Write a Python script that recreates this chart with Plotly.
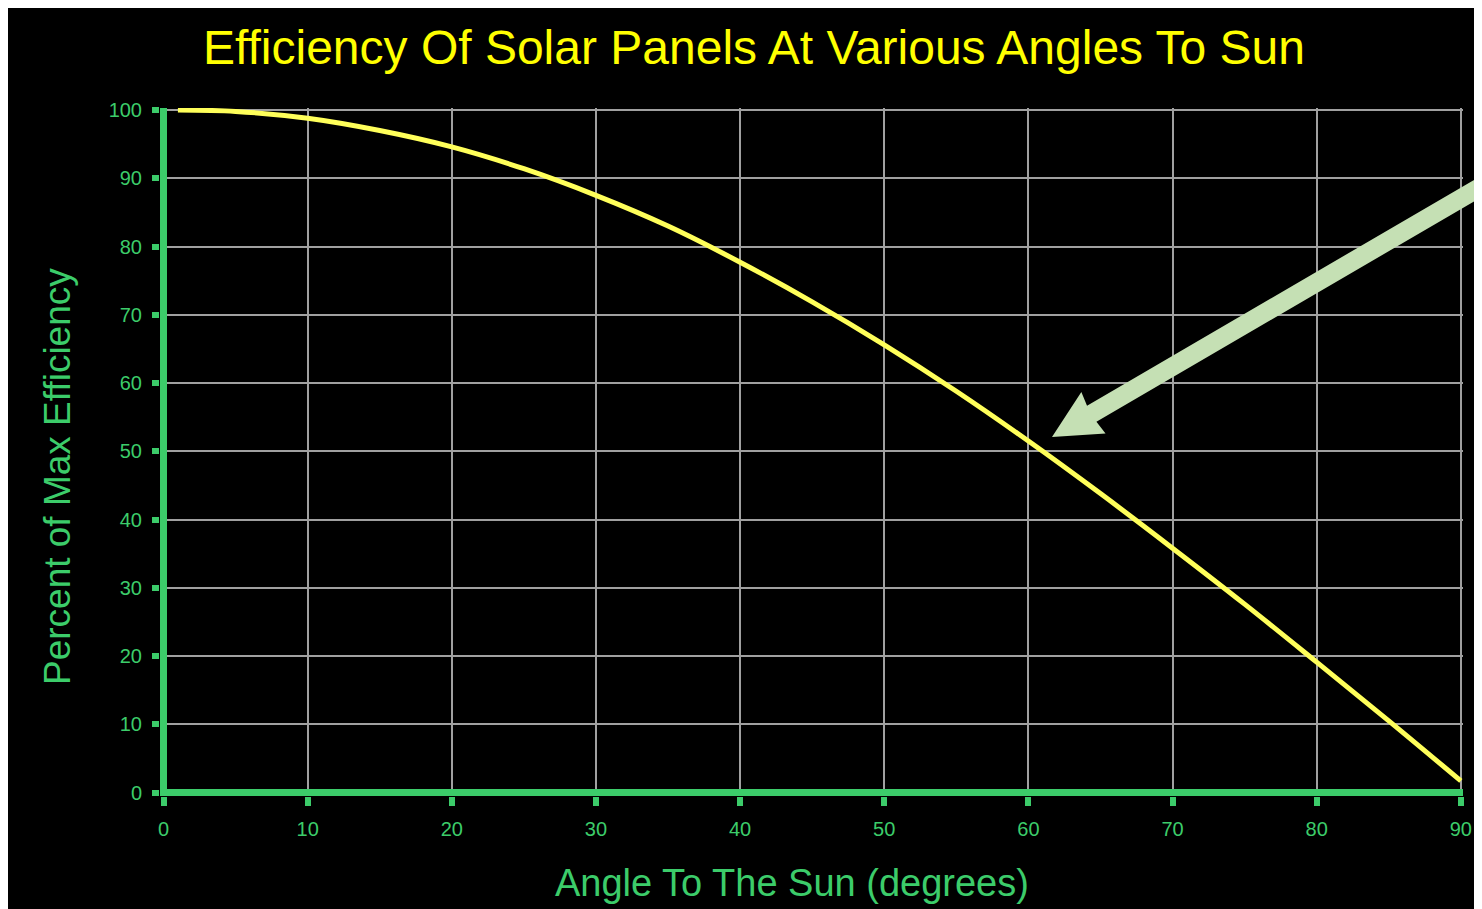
import math
import plotly.graph_objects as go

# Data
angles = [1, 5, 10, 15, 20, 25, 30, 35, 40, 45, 50, 55, 60, 65, 70, 75, 80, 85, 90]
efficiency = [100.0, 99.8, 98.8, 97.0, 94.6, 91.4, 87.5, 83.0, 77.7, 71.9,
              65.6, 58.8, 51.5, 43.8, 35.8, 27.6, 19.1, 10.5, 1.7]
x_ticks = [0, 10, 20, 30, 40, 50, 60, 70, 80, 90]
y_ticks = [0, 10, 20, 30, 40, 50, 60, 70, 80, 90, 100]

title_text = "Efficiency Of Solar Panels At Various Angles To Sun"
x_title = "Angle To The Sun (degrees)"
y_title = "Percent of Max Efficiency"

W, H = 1482, 909
OFF = 8  # page body margin
# plot area in figure coordinates
L, T = 152, 100
R = W - 1455
B = H - 788
PW, PH = W - L - R, H - T - B

GREEN = "#3ccc6a"
YELLOW = "#ffff00"
FONT = "Liberation Sans, Arial, sans-serif"


def px(sx):
    """screen x -> paper x"""
    return (sx - OFF - L) / PW


def py(sy):
    """screen y -> paper y"""
    return (H - B - (sy - OFF)) / PH


fig = go.Figure()
fig.add_trace(go.Scatter(
    x=angles, y=efficiency, mode="lines",
    line=dict(color="#ffff5a", width=5, shape="spline"),
    hoverinfo="x+y", showlegend=False,
))

# arrow pointing at the curve
tip = (1052, 437)
tail = (1482, 186)
dx, dy = tail[0] - tip[0], tail[1] - tip[1]
ln = math.hypot(dx, dy)
ux, uy = dx / ln, dy / ln
nx, ny = -uy, ux
head_len, head_half, shaft_half, total = 48, 24, 9.3, 560


def pt(a, b):
    return (tip[0] + a * ux + b * nx, tip[1] + a * uy + b * ny)


poly = [pt(0, 0), pt(head_len, head_half), pt(head_len - 2, shaft_half),
        pt(total, shaft_half), pt(total, -shaft_half), pt(head_len - 2, -shaft_half),
        pt(head_len, -head_half)]
path = "M " + " L ".join(f"{px(a):.5f},{py(b):.5f}" for a, b in poly) + " Z"
shapes = [dict(type="path", xref="paper", yref="paper", path=path,
               fillcolor="#c5e0b4", line=dict(width=0), layer="above")]

annotations = [
    dict(text=x_title, xref="paper", yref="paper", x=px(791.5), y=py(883),
         xanchor="center", yanchor="middle", showarrow=False,
         font=dict(family=FONT, size=38, color=GREEN)),
    dict(text=y_title, xref="paper", yref="paper", x=px(58), y=py(477),
         xanchor="center", yanchor="middle", showarrow=False, textangle=-90,
         font=dict(family=FONT, size=37, color=GREEN)),
]

fig.update_layout(
    width=W, height=H,
    margin=dict(l=L, r=R, t=T, b=B, pad=0),
    paper_bgcolor="black", plot_bgcolor="black",
    title=dict(text=title_text, xref="container", yref="container",
               x=(754 - OFF) / W, y=1 - (47 - OFF) / H, xanchor="center", yanchor="middle",
               font=dict(family=FONT, size=48, color=YELLOW)),
    shapes=shapes, annotations=annotations,
    showlegend=False,
)
fig.update_xaxes(
    range=[-0.243, 90.15], tickvals=x_ticks, ticktext=[str(v) for v in x_ticks],
    showgrid=True, gridcolor="#a0a0a0", gridwidth=2,
    zeroline=True, zerolinecolor=GREEN, zerolinewidth=7,
    showline=False,
    ticks="outside", ticklen=9, tickwidth=6, tickcolor=GREEN,
    ticklabelstandoff=6,
    tickfont=dict(family=FONT, size=20, color=GREEN),
)
fig.update_yaxes(
    range=[-0.513, 100.3], tickvals=y_ticks, ticktext=[str(v) for v in y_ticks],
    showgrid=True, gridcolor="#a0a0a0", gridwidth=2,
    zeroline=True, zerolinecolor=GREEN, zerolinewidth=7,
    showline=False,
    ticks="outside", ticklen=7, tickwidth=6, tickcolor=GREEN,
    ticklabelstandoff=6,
    tickfont=dict(family=FONT, size=20, color=GREEN),
)

fig.write_html("out.html")
